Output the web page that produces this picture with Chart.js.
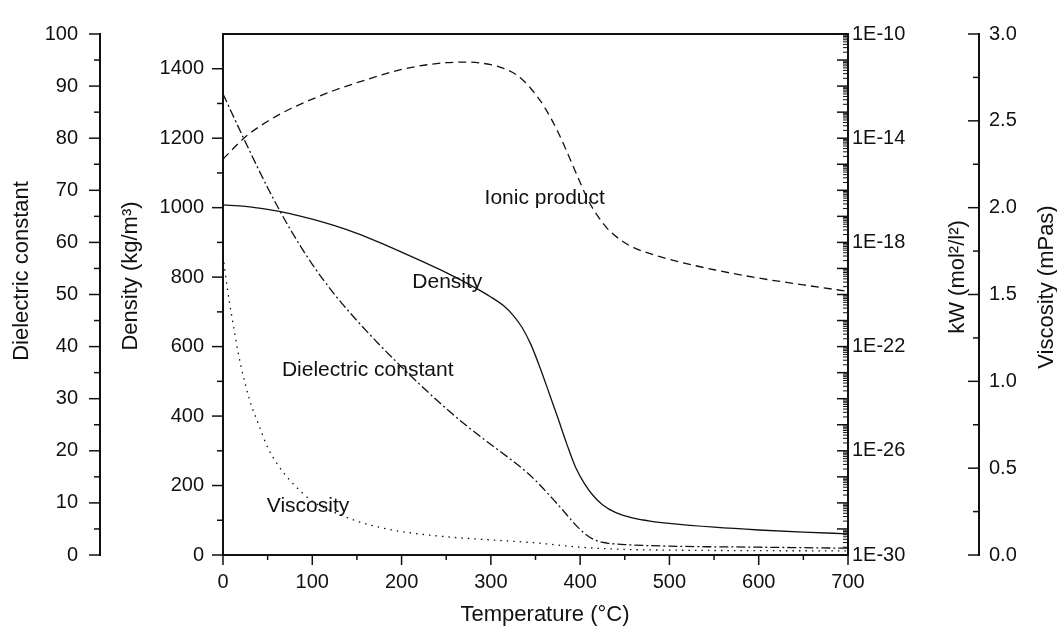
<!DOCTYPE html>
<html>
<head>
<meta charset="utf-8">
<style>
  html, body { margin: 0; padding: 0; background: #fff; }
</style>
<script src="https://cdn.jsdelivr.net/npm/chart.js@4.4.1/dist/chart.umd.min.js"></script>
</head>
<body>
<canvas id="chart" width="1057" height="629"></canvas>
<script>
// ---- data ----
const densTemp = [0, 25, 50, 75, 100, 125, 150, 175, 200, 225, 250, 275, 300, 315, 325, 335, 345, 355, 365, 375, 385, 395, 405, 415, 425, 440, 460, 480, 500, 550, 600, 650, 700];
const densVal  = [1008, 1004, 995, 983, 967, 948, 926, 900, 872, 843, 813, 780, 743, 716, 690, 655, 605, 540, 468, 395, 320, 252, 205, 170, 145, 122, 106, 97, 91, 80, 72, 66, 61];

const dielTemp = [0, 25, 50, 75, 100, 125, 150, 175, 200, 225, 250, 275, 300, 325, 340, 350, 375, 400, 415, 430, 450, 500, 600, 700];
const dielVal  = [88.5, 79.3, 70.5, 62.6, 55.8, 50.0, 45.0, 40.4, 36.1, 32.0, 28.1, 24.5, 21.2, 18.0, 15.9, 14.3, 9.7, 4.9, 3.0, 2.3, 2.0, 1.7, 1.5, 1.3];

const viscTemp = [0, 5, 10, 15, 20, 30, 40, 50, 60, 75, 100, 125, 150, 175, 200, 250, 300, 350, 400, 450, 500, 600, 700];
const viscVal  = [1.72, 1.53, 1.37, 1.22, 1.09, 0.89, 0.75, 0.62, 0.53, 0.43, 0.31, 0.245, 0.195, 0.16, 0.135, 0.105, 0.087, 0.07, 0.045, 0.032, 0.028, 0.025, 0.024];

const kwTemp = [0, 25, 50, 75, 100, 125, 150, 175, 200, 225, 250, 275, 300, 315, 330, 345, 360, 375, 390, 400, 410, 420, 430, 445, 460, 480, 500, 550, 600, 650, 700];
const kwVal  = [1.58e-15, 1.12e-14, 4.47e-14, 1.32e-13, 3.16e-13, 6.92e-13, 1.35e-12, 2.51e-12, 4.37e-12, 6.31e-12, 7.94e-12, 8.32e-12, 6.61e-12, 4.68e-12, 2.51e-12, 7.94e-13, 1.58e-13, 1.78e-14, 1.26e-15, 2.0e-16, 3.55e-17, 1.0e-17, 3.55e-18, 1.26e-18, 6.31e-19, 3.55e-19, 2.24e-19, 8.91e-20, 4.27e-20, 2.34e-20, 1.32e-20];

// tick labels
const tempTicks = [0, 100, 200, 300, 400, 500, 600, 700];
const dielTicks = [0, 10, 20, 30, 40, 50, 60, 70, 80, 90, 100];
const densTicks = [0, 200, 400, 600, 800, 1000, 1200, 1400];
const kwTicks   = [1e-30, 1e-26, 1e-22, 1e-18, 1e-14, 1e-10];
const viscTicks = [0, 0.5, 1.0, 1.5, 2.0, 2.5, 3.0];

// ---- look ----
const INK = '#111';
const FAMILY = '"Liberation Sans", Arial, Helvetica, sans-serif';
const tickFont = { family: FAMILY, size: 20 };

// curve labels, placed in (temperature, density) units
const notes = [
  { text: 'Ionic product', t: 293, d: 1028 },
  { text: 'Density', t: 212, d: 786 },
  { text: 'Dielectric constant', t: 66, d: 532 },
  { text: 'Viscosity', t: 49, d: 141 },
];

// axis titles: pixel centre of each title
const titles = [
  { text: 'Dielectric constant', x: 22, y: 271, rot: true },
  { text: 'Density (kg/m\u00B3)', x: 131, y: 276, rot: true },
  { text: 'kW (mol\u00B2/l\u00B2)', x: 958, y: 277, rot: true },
  { text: 'Viscosity (mPas)', x: 1047, y: 287, rot: true },
  { text: 'Temperature (\u00B0C)', x: 545, y: 615, rot: false },
];

const toXY = (xs, ys) => xs.map((x, i) => ({ x, y: ys[i] }));
const fixTicks = (arr) => (s) => { s.ticks = arr.map((v) => ({ value: v })); };
const mids = (arr) => arr.slice(1).map((v, i) => (v + arr[i]) / 2);

function line(ctx, x1, y1, x2, y2) {
  ctx.beginPath();
  ctx.moveTo(x1, y1);
  ctx.lineTo(x2, y2);
  ctx.stroke();
}

const decor = {
  id: 'decor',
  afterDraw(chart) {
    const { ctx, chartArea: a, scales } = chart;
    ctx.save();
    ctx.strokeStyle = INK;
    ctx.lineWidth = 2;
    line(ctx, a.left - 1, a.top, a.right + 1, a.top);

    ctx.lineWidth = 1.5;
    // x ticks, outward
    const xs = scales.x;
    tempTicks.forEach((v) => { const p = xs.getPixelForValue(v); line(ctx, p, a.bottom, p, a.bottom + 10); });
    mids(tempTicks).forEach((v) => { const p = xs.getPixelForValue(v); line(ctx, p, a.bottom, p, a.bottom + 5); });

    // left axes, ticks pointing left
    [[scales.yDiel, dielTicks], [scales.yDens, densTicks]].forEach(([s, tk]) => {
      const x0 = s.right;
      tk.forEach((v) => { const p = s.getPixelForValue(v); line(ctx, x0, p, x0 - 11, p); });
      mids(tk).forEach((v) => { const p = s.getPixelForValue(v); line(ctx, x0, p, x0 - 6, p); });
    });

    // viscosity axis, ticks pointing left
    const vs = scales.yVisc;
    viscTicks.forEach((v) => { const p = vs.getPixelForValue(v); line(ctx, vs.left, p, vs.left - 11, p); });
    mids(viscTicks).forEach((v) => { const p = vs.getPixelForValue(v); line(ctx, vs.left, p, vs.left - 6, p); });

    // kW log axis, ticks pointing into the plot
    const ks = scales.yKw;
    for (let e = -30; e <= -10; e++) {
      const p = ks.getPixelForValue(Math.pow(10, e));
      ctx.lineWidth = 1.5;
      line(ctx, ks.left, p, ks.left - 11, p);
      if (e < -10) {
        ctx.lineWidth = 1;
        for (let m = 2; m <= 9; m++) {
          const q = ks.getPixelForValue(m * Math.pow(10, e));
          line(ctx, ks.left, q, ks.left - 5, q);
        }
      }
    }

    // titles
    ctx.fillStyle = INK;
    ctx.font = '22px ' + FAMILY;
    ctx.textAlign = 'center';
    ctx.textBaseline = 'middle';
    titles.forEach((t) => {
      ctx.save();
      ctx.translate(t.x, t.y);
      if (t.rot) ctx.rotate(-Math.PI / 2);
      ctx.fillText(t.text, 0, 0);
      ctx.restore();
    });

    // curve labels
    ctx.font = '21px ' + FAMILY;
    ctx.textAlign = 'left';
    notes.forEach((n) => {
      ctx.fillText(n.text, xs.getPixelForValue(n.t), scales.yDens.getPixelForValue(n.d));
    });
    ctx.restore();
  },
};

const ctx = document.getElementById('chart').getContext('2d');
const lineDefaults = {
  borderColor: INK,
  borderWidth: 1.3,
  pointRadius: 0,
  fill: false,
  cubicInterpolationMode: 'monotone',
};

const axisBase = {
  grid: { display: false, drawTicks: false },
  border: { display: true, width: 2, color: INK },
};

new Chart(ctx, {
  type: 'line',
  data: {
    datasets: [
      { ...lineDefaults, label: 'Density', data: toXY(densTemp, densVal), yAxisID: 'yDens' },
      { ...lineDefaults, label: 'Dielectric constant', data: toXY(dielTemp, dielVal), yAxisID: 'yDiel', borderDash: [9, 3, 2, 3] },
      { ...lineDefaults, label: 'Viscosity', data: toXY(viscTemp, viscVal), yAxisID: 'yVisc', borderDash: [1.5, 5] },
      { ...lineDefaults, label: 'Ionic product', data: toXY(kwTemp, kwVal), yAxisID: 'yKw', borderDash: [8, 5] },
    ],
  },
  options: {
    responsive: false,
    animation: false,
    layout: { padding: { top: 23, left: 0, right: 0, bottom: 0 } },
    plugins: { legend: { display: false }, tooltip: { enabled: false } },
    scales: {
      x: {
        ...axisBase,
        type: 'linear',
        position: 'bottom',
        min: 0,
        max: 700,
        afterBuildTicks: fixTicks(tempTicks),
        afterFit: (s) => { s.height = 74; },
        ticks: { font: tickFont, color: INK, padding: 15, maxRotation: 0, autoSkip: false, callback: (v) => String(v) },
      },
      yDiel: {
        ...axisBase,
        type: 'linear',
        position: 'left',
        weight: 1,
        min: 0,
        max: 100,
        afterBuildTicks: fixTicks(dielTicks),
        afterFit: (s) => { s.width = 100; },
        ticks: { font: tickFont, color: INK, padding: 22, autoSkip: false, callback: (v) => String(v) },
      },
      yDens: {
        ...axisBase,
        type: 'linear',
        position: 'left',
        weight: 0,
        min: 0,
        max: 1500,
        afterBuildTicks: fixTicks(densTicks),
        afterFit: (s) => { s.width = 123; },
        ticks: { font: tickFont, color: INK, padding: 19, autoSkip: false, callback: (v) => String(v) },
      },
      yKw: {
        ...axisBase,
        type: 'logarithmic',
        position: 'right',
        weight: 0,
        min: 1e-30,
        max: 1e-10,
        afterBuildTicks: fixTicks(kwTicks),
        afterFit: (s) => { s.width = 131; },
        ticks: {
          font: tickFont, color: INK, padding: 4, autoSkip: false,
          callback: (v) => '1E' + Math.round(Math.log10(v)),
        },
      },
      yVisc: {
        ...axisBase,
        type: 'linear',
        position: 'right',
        weight: 1,
        min: 0,
        max: 3,
        afterBuildTicks: fixTicks(viscTicks),
        afterFit: (s) => { s.width = 78; },
        ticks: {
          font: tickFont, color: INK, padding: 10, autoSkip: false,
          callback: (v) => v.toFixed(1),
        },
      },
    },
  },
  plugins: [decor],
});
</script>
</body>
</html>
